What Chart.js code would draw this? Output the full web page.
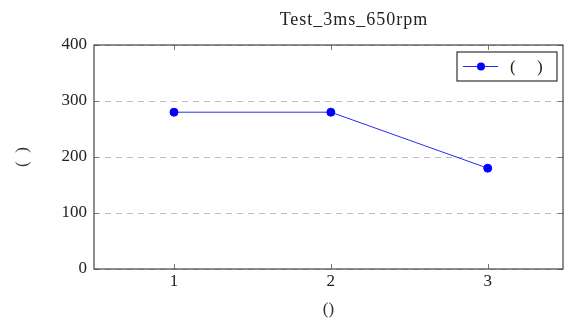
<!DOCTYPE html>
<html>
<head>
<meta charset="utf-8">
<script src="https://cdn.jsdelivr.net/npm/chart.js@4.4.0/dist/chart.umd.min.js"></script>
<style>
  html, body { margin: 0; padding: 0; background: #fff; }
  #wrap { width: 566px; height: 320px; }
</style>
</head>
<body>
<div id="wrap"><canvas id="chart" width="566" height="320"></canvas></div>
<script>
/* data */
var xValues = [1, 2, 3];
var yValues = [280, 280, 180];
var xTicks = [1, 2, 3];
var yTicks = [0, 100, 200, 300, 400];
var titleText = 'Test_3ms_650rpm';
var seriesLabel = '(     )';
var xTitle = '()';
var yTitle = '(  )';

var SERIF = '"Liberation Serif", "DejaVu Serif", serif';
var FRAME = '#444';
var BLUE = '#0000ff';

/* frame, inward tick marks and the title over the plot */
var framePlugin = {
  id: 'frame',
  afterDatasetsDraw: function (chart) {
    var ctx = chart.ctx, a = chart.chartArea;
    var sx = chart.scales.x, sy = chart.scales.y;
    ctx.save();
    ctx.strokeStyle = '#777';
    ctx.lineWidth = 1;
    ctx.beginPath();
    xTicks.forEach(function (v) {
      var px = Math.round(sx.getPixelForValue(v)) + 0.5;
      ctx.moveTo(px, a.bottom); ctx.lineTo(px, a.bottom - 5);
      ctx.moveTo(px, a.top); ctx.lineTo(px, a.top + 5);
    });
    yTicks.forEach(function (v) {
      var py = Math.round(sy.getPixelForValue(v)) + 0.5;
      ctx.moveTo(a.left, py); ctx.lineTo(a.left + 5, py);
      ctx.moveTo(a.right, py); ctx.lineTo(a.right - 5, py);
    });
    ctx.stroke();
    ctx.strokeStyle = FRAME;
    ctx.lineWidth = 1.2;
    ctx.strokeRect(a.left, a.top, a.right - a.left, a.bottom - a.top);
    ctx.restore();
  },
  afterDraw: function (chart) {
    var ctx = chart.ctx;
    ctx.save();
    ctx.fillStyle = '#222';
    ctx.font = '18px ' + SERIF;
    ctx.letterSpacing = '1px';
    ctx.textAlign = 'center';
    ctx.textBaseline = 'middle';
    ctx.fillText(titleText, 354, 20);
    ctx.restore();
  }
};

/* boxed legend in the top-right corner */
var boxLegend = {
  id: 'boxLegend',
  afterDraw: function (chart) {
    var ctx = chart.ctx, a = chart.chartArea;
    var ds = chart.data.datasets[0];
    var w = 100, h = 29;
    var x0 = a.right - 6 - w, y0 = a.top + 7;
    ctx.save();
    ctx.fillStyle = '#fff';
    ctx.fillRect(x0, y0, w, h);
    ctx.strokeStyle = '#333';
    ctx.lineWidth = 1.2;
    ctx.strokeRect(x0, y0, w, h);
    var cy = y0 + h / 2;
    ctx.strokeStyle = ds.borderColor;
    ctx.lineWidth = 1;
    ctx.beginPath();
    ctx.moveTo(x0 + 6, cy); ctx.lineTo(x0 + 41, cy);
    ctx.stroke();
    ctx.fillStyle = ds.pointBackgroundColor;
    ctx.beginPath();
    ctx.arc(x0 + 24, cy, 4, 0, Math.PI * 2);
    ctx.fill();
    ctx.fillStyle = '#222';
    ctx.font = '17px ' + SERIF;
    ctx.textAlign = 'left';
    ctx.textBaseline = 'middle';
    ctx.fillText(ds.label, x0 + 53, cy + 1);
    ctx.restore();
  }
};

var points = xValues.map(function (x, i) { return { x: x, y: yValues[i] }; });

new Chart(document.getElementById('chart'), {
  type: 'line',
  data: {
    datasets: [{
      label: seriesLabel,
      data: points,
      borderColor: '#2a2aee',
      borderWidth: 1,
      pointBackgroundColor: BLUE,
      pointBorderColor: BLUE,
      pointRadius: 4,
      tension: 0
    }]
  },
  options: {
    responsive: false,
    animation: false,
    layout: { autoPadding: false, padding: { top: 45, right: 3, left: 0, bottom: 0 } },
    plugins: { legend: { display: false }, title: { display: false }, tooltip: { enabled: false } },
    scales: {
      x: {
        type: 'linear',
        min: 0.49, max: 3.48,
        afterBuildTicks: function (s) { s.ticks = xTicks.map(function (v) { return { value: v }; }); },
        afterFit: function (s) { s.height = 51; },
        grid: { display: false, drawTicks: false },
        border: { display: false },
        ticks: { color: '#222', font: { family: SERIF, size: 17 }, padding: 2 },
        title: { display: true, text: xTitle, color: '#333', font: { family: SERIF, size: 17 }, padding: { top: 0, bottom: 0 } }
      },
      y: {
        min: 0, max: 400,
        afterBuildTicks: function (s) { s.ticks = yTicks.map(function (v) { return { value: v }; }); },
        afterFit: function (s) { s.width = 94; },
        grid: { color: '#bdbdbd', lineWidth: 1, drawTicks: false },
        border: { display: false, dash: [6, 5] },
        ticks: { color: '#222', font: { family: SERIF, size: 17 }, padding: 7 },
        title: { display: true, text: yTitle, color: '#333', font: { family: SERIF, size: 17 }, padding: { top: 12, bottom: 0 } }
      }
    }
  },
  plugins: [framePlugin, boxLegend]
});
</script>
</body>
</html>
